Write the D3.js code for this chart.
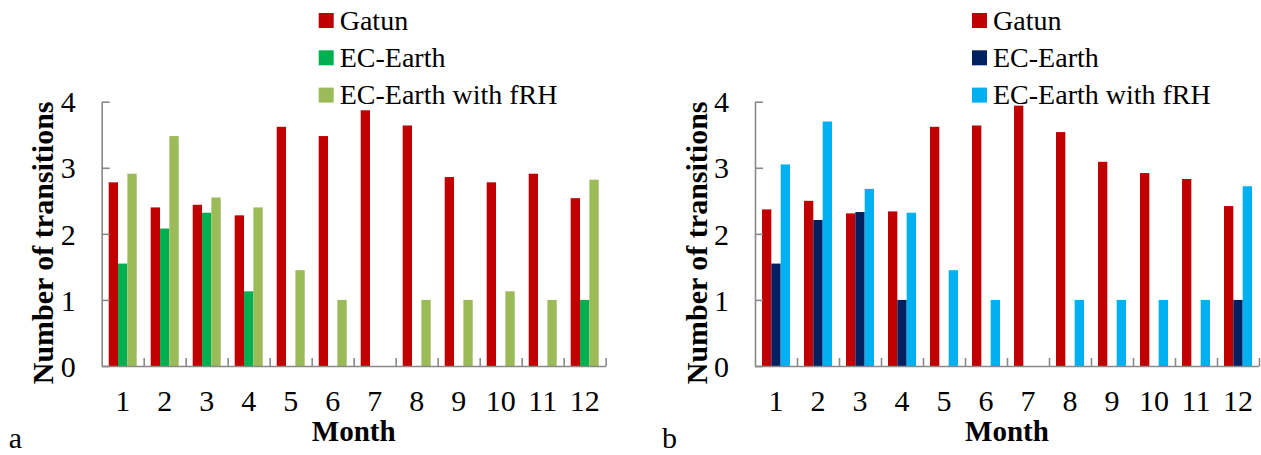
<!DOCTYPE html>
<html>
<head>
<meta charset="utf-8">
<script src="https://cdn.jsdelivr.net/npm/d3@7"></script>
<style>
  body { margin: 0; background: #fff; }
</style>
</head>
<body>
<div id="chart"></div>
<script>
  const months = ["1", "2", "3", "4", "5", "6", "7", "8", "9", "10", "11", "12"];
  const seriesNames = ["Gatun", "EC-Earth", "EC-Earth with fRH"];
  const yTicks = [0, 1, 2, 3, 4];

  // panel a
  const gatunA = [2.78, 2.40, 2.44, 2.28, 3.62, 3.48, 3.87, 3.64, 2.86, 2.78, 2.91, 2.54];
  const ecEarthA = [1.55, 2.08, 2.32, 1.13, 0, 0, 0, 0, 0, 0, 0, 1.0];
  const fRHA = [2.91, 3.48, 2.55, 2.40, 1.45, 1.0, 0, 1.0, 1.0, 1.13, 1.0, 2.82];
  const colorsA = ["#C00000", "#00B050", "#9BBB59"];

  // panel b
  const gatunB = [2.37, 2.50, 2.31, 2.34, 3.62, 3.64, 3.94, 3.54, 3.09, 2.92, 2.83, 2.42];
  const ecEarthB = [1.55, 2.21, 2.33, 1.0, 0, 0, 0, 0, 0, 0, 0, 1.0];
  const fRHB = [3.05, 3.70, 2.68, 2.32, 1.45, 1.0, 0, 1.0, 1.0, 1.0, 1.0, 2.72];
  const colorsB = ["#C00000", "#002060", "#00B0F0"];

  const width = 1261;
  const height = 455;
  const axisColor = "#898989";
  const serif = "'Liberation Serif', Tinos, 'Times New Roman', 'DejaVu Serif', serif";

  const svg = d3.select("#chart").append("svg")
    .attr("width", width)
    .attr("height", height);

  function drawPanel(left, series, colors, letter) {
    const x0 = left, x1 = left + 504;
    const yTop = 101.7, yBottom = 366;
    const g = svg.append("g");

    const x = d3.scaleBand()
      .domain(months)
      .range([x0, x1])
      .paddingInner(1 / 3)
      .paddingOuter(1 / 6);
    const xs = d3.scaleBand()
      .domain(d3.range(series.length))
      .range([0, x.bandwidth()]);
    const y = d3.scaleLinear().domain([0, 4]).range([yBottom, yTop]);

    // bars (zero values draw nothing)
    series.forEach(function(vals, s) {
      const rows = vals.map(function(v, i) { return { month: months[i], value: v }; })
        .filter(function(d) { return d.value > 0; });
      g.selectAll(null)
        .data(rows)
        .enter()
        .append("rect")
        .attr("x", function(d) { return x(d.month) + xs(s); })
        .attr("y", function(d) { return y(d.value); })
        .attr("width", xs.bandwidth())
        .attr("height", function(d) { return yBottom - y(d.value); })
        .style("fill", colors[s]);
    });

    // y axis, ticks inside
    const yAxis = g.append("g")
      .attr("transform", "translate(" + x0 + ",0)")
      .call(d3.axisLeft(y).tickValues(yTicks).tickFormat(d3.format("d"))
        .tickSizeInner(-8).tickSizeOuter(0).tickPadding(26));
    yAxis.selectAll("text")
      .style("font-family", serif)
      .style("font-size", "30px")
      .style("fill", "#000")
      .attr("dy", "0.34em");

    // x axis: category boundary ticks on a linear scale
    const xb = d3.scaleLinear().domain([0, months.length]).range([x0, x1]);
    g.append("g")
      .attr("transform", "translate(0," + yBottom + ")")
      .call(d3.axisBottom(xb).tickValues(d3.range(1, months.length + 1))
        .tickFormat("").tickSizeInner(-8).tickSizeOuter(0));

    g.selectAll(".domain, .tick line")
      .style("stroke", axisColor)
      .style("stroke-width", 1.6);

    // month labels
    g.selectAll(null)
      .data(months)
      .enter()
      .append("text")
      .attr("x", function(d) { return x(d) + x.bandwidth() / 2; })
      .attr("y", 410.5)
      .attr("text-anchor", "middle")
      .style("font-family", serif)
      .style("font-size", "30px")
      .text(function(d) { return d; });

    g.append("text")
      .attr("x", (x0 + x1) / 2)
      .attr("y", 441)
      .attr("text-anchor", "middle")
      .style("font-family", serif)
      .style("font-size", "29px")
      .style("font-weight", "bold")
      .text("Month");

    g.append("text")
      .attr("transform", "translate(" + (x0 - 48.5) + "," + ((yTop + yBottom) / 2 + 9) + ") rotate(-90)")
      .attr("text-anchor", "middle")
      .style("font-family", serif)
      .style("font-size", "30px")
      .style("font-weight", "bold")
      .text("Number of transitions");

    g.append("text")
      .attr("x", left - 93)
      .attr("y", 448)
      .style("font-family", serif)
      .style("font-size", "30px")
      .text(letter);

    // legend
    const legend = g.selectAll(null)
      .data(seriesNames)
      .enter()
      .append("g")
      .attr("transform", function(d, i) { return "translate(" + (x0 + 217) + "," + (20.5 + i * 37.3) + ")"; });
    legend.append("rect")
      .attr("x", 0)
      .attr("y", -7.5)
      .attr("width", 15)
      .attr("height", 15)
      .style("fill", function(d, i) { return colors[i]; });
    legend.append("text")
      .attr("x", 21)
      .attr("y", 9)
      .style("font-family", serif)
      .style("font-size", "28px")
      .text(function(d) { return d; });
  }

  drawPanel(101.7, [gatunA, ecEarthA, fRHA], colorsA, "a");
  drawPanel(755, [gatunB, ecEarthB, fRHB], colorsB, "b");
</script>
</body>
</html>
